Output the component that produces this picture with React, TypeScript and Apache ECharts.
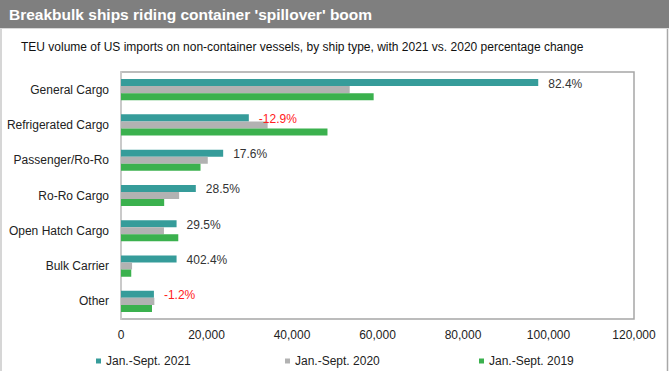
import React, { useEffect, useRef } from "react";
import * as echarts from "echarts";

const categories = [
  "General Cargo",
  "Refrigerated Cargo",
  "Passenger/Ro-Ro",
  "Ro-Ro Cargo",
  "Open Hatch Cargo",
  "Bulk Carrier",
  "Other",
];
const seriesNames = ["Jan.-Sept. 2021", "Jan.-Sept. 2020", "Jan.-Sept. 2019"];
const values2021 = [97600, 29900, 23900, 17500, 13000, 13000, 7700];
const values2020 = [53500, 34300, 20300, 13600, 10050, 2590, 7800];
const values2019 = [59100, 48300, 18600, 10100, 13400, 2400, 7250];
const pctChange = ["82.4%", "-12.9%", "17.6%", "28.5%", "29.5%", "402.4%", "-1.2%"];
const xTicks = [0, 20000, 40000, 60000, 80000, 100000, 120000];

const FONT = "'Liberation Sans', Arial, sans-serif";
const colors = ["#369c9a", "#b2b2b2", "#3bb14e"];

export default function App() {
  const ref = useRef<HTMLDivElement>(null);
  useEffect(() => {
    document.body.style.margin = "0";
    if (!ref.current) return;
    const chart = echarts.init(ref.current, null, { renderer: "svg" });
    const teal = values2021.map((v, i) => ({
      value: v,
      label: { color: pctChange[i].startsWith("-") ? "#ff2020" : "#333333" },
    }));
    const legendLefts = [96, 285, 479];
    chart.setOption({
      animation: false,
      textStyle: { fontFamily: FONT },
      graphic: [
        { type: "rect", shape: { x: 0, y: 0, width: 669, height: 28 }, style: { fill: "#7f7f7f" } },
        { type: "line", shape: { x1: 1, y1: 28, x2: 1, y2: 371 }, style: { stroke: "#c8c8c8", lineWidth: 1.5 } },
        { type: "line", shape: { x1: 667.5, y1: 28, x2: 667.5, y2: 371 }, style: { stroke: "#a8a8a8", lineWidth: 1.5 } },
        { type: "line", shape: { x1: 0, y1: 28.5, x2: 669, y2: 28.5 }, style: { stroke: "#d8d8d8", lineWidth: 1 } },
        {
          type: "text",
          x: 9,
          y: 14,
          style: {
            text: "Breakbulk ships riding container 'spillover' boom",
            fill: "#ffffff",
            font: "bold 15.5px " + FONT,
            textVerticalAlign: "middle",
          },
        },
        {
          type: "text",
          x: 21,
          y: 47,
          style: {
            text: "TEU volume of US imports on non-container vessels, by ship type, with 2021 vs. 2020 percentage change",
            fill: "#111111",
            font: "12px " + FONT,
            textVerticalAlign: "middle",
          },
        },
      ],
      legend: seriesNames.map((n, i) => ({
        data: [n],
        left: legendLefts[i],
        top: 355,
        padding: 0,
        icon: "rect",
        itemWidth: 5,
        itemHeight: 5,
        selectedMode: false,
        textStyle: { fontSize: 12, color: "#222", fontFamily: FONT },
      })),
      grid: {
        left: 121,
        top: 72,
        width: 513,
        height: 247,
        show: true,
        borderColor: "#a6a6a6",
        borderWidth: 1.5,
        containLabel: false,
      },
      xAxis: {
        type: "value",
        min: 0,
        max: 120000,
        interval: 20000,
        splitLine: { show: false },
        axisLine: { show: false },
        axisTick: { show: false },
        axisLabel: {
          color: "#222",
          fontSize: 12,
          margin: 10,
          formatter: (v: number) => v.toLocaleString("en-US"),
          customValues: xTicks,
        },
      },
      yAxis: {
        type: "category",
        inverse: true,
        data: categories,
        axisTick: { show: false },
        axisLine: { show: true, lineStyle: { color: "#cfcfcf", width: 1.5 } },
        axisLabel: { color: "#222", fontSize: 12, margin: 12 },
      },
      series: [
        {
          name: seriesNames[0],
          type: "bar",
          data: teal,
          itemStyle: { color: colors[0] },
          barGap: "0%",
          barCategoryGap: "40%",
          label: {
            show: true,
            position: "right",
            distance: 10,
            fontSize: 12,
            offset: [0, 1],
            formatter: (p: any) => pctChange[p.dataIndex],
          },
        },
        {
          name: seriesNames[1],
          type: "bar",
          data: values2020,
          itemStyle: { color: colors[1] },
          barGap: "0%",
          barCategoryGap: "40%",
        },
        {
          name: seriesNames[2],
          type: "bar",
          data: values2019,
          itemStyle: { color: colors[2] },
          barGap: "0%",
          barCategoryGap: "40%",
        },
      ],
    });
    return () => chart.dispose();
  }, []);
  return <div ref={ref} style={{ width: 669, height: 371, background: "#fff" }} />;
}
